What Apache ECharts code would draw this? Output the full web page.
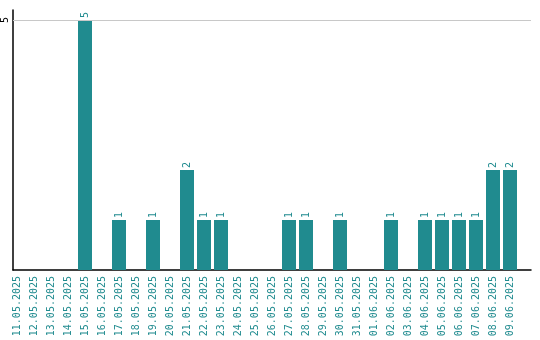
<!DOCTYPE html>
<html><head><meta charset="utf-8">
<script src="https://cdn.jsdelivr.net/npm/echarts@6/dist/echarts.min.js"></script>
<style>html,body{margin:0;padding:0;background:#fff}#c{width:540px;height:340px}</style>
</head><body><div id="c"></div>
<script>
const categories = ["11.05.2025","12.05.2025","13.05.2025","14.05.2025","15.05.2025","16.05.2025","17.05.2025","18.05.2025","19.05.2025","20.05.2025","21.05.2025","22.05.2025","23.05.2025","24.05.2025","25.05.2025","26.05.2025","27.05.2025","28.05.2025","29.05.2025","30.05.2025","31.05.2025","01.06.2025","02.06.2025","03.06.2025","04.06.2025","05.06.2025","06.06.2025","07.06.2025","08.06.2025","09.06.2025"];
const values = [0,0,0,0,5,0,1,0,1,0,2,1,1,0,0,0,1,1,0,1,0,0,1,0,1,1,1,1,2,2];
const yTicks = [5];
const teal = '#208b8f';
const font = 'DejaVu Sans Mono';
const chart = echarts.init(document.getElementById('c'));
chart.setOption({
  animation: false,
  grid: [
    {left: 8.5, right: 21.5, top: 10, bottom: 70},
    {left: 11, right: 9, top: 10, bottom: 70}
  ],
  xAxis: [{
    type: 'category', data: categories, gridIndex: 0,
    axisLine: {show: false},
    axisTick: {show: false},
    axisLabel: {rotate: 90, color: teal, fontFamily: font, fontSize: 10, margin: 6, interval: 0}
  }, {
    type: 'value', gridIndex: 1, min: 0, max: 1,
    axisLine: {show: true, onZero: false, lineStyle: {color: '#000', width: 1.5}},
    axisTick: {show: false}, axisLabel: {show: false}, splitLine: {show: false}
  }],
  yAxis: [{
    type: 'value', gridIndex: 0, min: 0, max: 5.2, show: false, splitLine: {show: false}
  }, {
    type: 'value', gridIndex: 1, min: 0, max: 5.2, interval: 5,
    axisLine: {show: true, lineStyle: {color: '#000', width: 1.5}},
    axisTick: {show: false},
    splitLine: {show: false},
    axisLabel: {rotate: 90, color: '#000', fontFamily: font, fontSize: 10, margin: 3,
      formatter: v => yTicks.includes(v) ? String(v) : ''}
  }],
  series: [{
    type: 'bar', data: values, barWidth: 14, xAxisIndex: 0, yAxisIndex: 0, z: 3,
    itemStyle: {color: teal},
    label: {show: true, position: 'top', rotate: 90, align: 'left', verticalAlign: 'middle', distance: 2,
      color: teal, fontFamily: font, fontSize: 10,
      formatter: p => p.value > 0 ? String(p.value) : ''}
  }, {
    type: 'line', data: [], xAxisIndex: 1, yAxisIndex: 1, z: 1,
    markLine: {silent: true, symbol: 'none', label: {show: false},
      lineStyle: {color: '#c8c8c8', type: 'solid', width: 1},
      data: yTicks.map(t => ({yAxis: t}))}
  }]
});
</script></body></html>
